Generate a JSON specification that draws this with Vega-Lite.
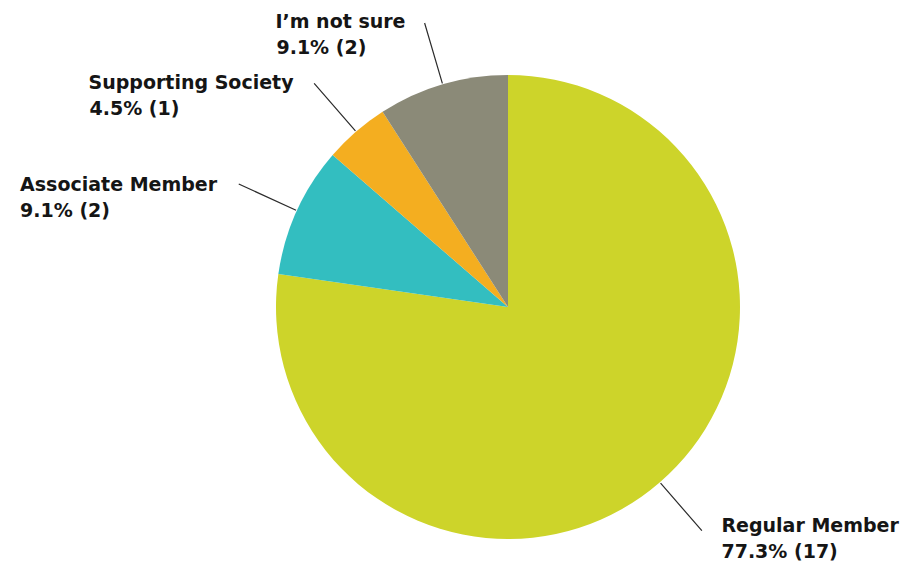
{
  "$schema": "https://vega.github.io/schema/vega-lite/v6.json",
  "width": 464,
  "height": 464,
  "autosize": {"type": "none"},
  "padding": {"left": 276, "top": 75, "right": 163, "bottom": 29},
  "background": "white",
  "config": {"view": {"stroke": null}},
  "data": {
    "values": [
      {"name": "Regular Member", "count": 17, "share": "77.3% (17)", "rank": 1},
      {"name": "Associate Member", "count": 2, "share": "9.1% (2)", "rank": 2},
      {"name": "Supporting Society", "count": 1, "share": "4.5% (1)", "rank": 3},
      {"name": "I’m not sure", "count": 2, "share": "9.1% (2)", "rank": 4}
    ]
  },
  "transform": [
    {"stack": "count", "groupby": [], "sort": [{"field": "rank"}], "as": ["c0", "c1"]},
    {"calculate": "(datum.c0 + datum.c1) / 2", "as": "mid"}
  ],
  "layer": [
    {
      "mark": {"type": "arc", "radius": 232},
      "encoding": {
        "theta": {"field": "c0", "type": "quantitative", "scale": {"domain": [0, 22]}},
        "theta2": {"field": "c1"},
        "color": {
          "field": "name",
          "type": "nominal",
          "scale": {
            "domain": ["Regular Member", "Associate Member", "Supporting Society", "I’m not sure"],
            "range": ["#CDD42A", "#33BEC0", "#F4AE20", "#8B8A78"]
          },
          "legend": null
        }
      }
    },
    {
      "mark": {"type": "arc", "radius": 296, "radius2": 233, "filled": false, "stroke": "#2b2b2b", "strokeWidth": 1.2},
      "encoding": {
        "theta": {"field": "mid", "type": "quantitative", "scale": {"domain": [0, 22]}},
        "theta2": {"field": "mid"}
      }
    },
    {
      "transform": [{"filter": "datum.mid < 11"}],
      "mark": {"type": "text", "radius": 300, "align": "left", "baseline": "middle", "dx": 17, "dy": -8, "font": "DejaVu Sans", "fontWeight": "bold", "fontSize": 19, "color": "#151515"},
      "encoding": {
        "theta": {"field": "mid", "type": "quantitative", "stack": null, "scale": {"domain": [0, 22]}},
        "text": {"field": "name"}
      }
    },
    {
      "transform": [{"filter": "datum.mid < 11"}],
      "mark": {"type": "text", "radius": 300, "align": "left", "baseline": "middle", "dx": 17, "dy": 18, "font": "DejaVu Sans", "fontWeight": "bold", "fontSize": 19, "color": "#151515"},
      "encoding": {
        "theta": {"field": "mid", "type": "quantitative", "stack": null, "scale": {"domain": [0, 22]}},
        "text": {"field": "share"}
      }
    },
    {
      "transform": [{"filter": "datum.mid >= 11"}],
      "mark": {"type": "text", "radius": 300, "align": "right", "baseline": "middle", "dx": -18, "dy": 3, "font": "DejaVu Sans", "fontWeight": "bold", "fontSize": 19, "color": "#151515"},
      "encoding": {
        "theta": {"field": "mid", "type": "quantitative", "stack": null, "scale": {"domain": [0, 22]}},
        "text": {"field": "name"}
      }
    },
    {
      "transform": [{"filter": "datum.mid >= 11"}],
      "mark": {"type": "text", "radius": 300, "align": "left", "baseline": "middle", "dx": {"expr": "-(length(datum.name) * 13.19 - 5.56 * length(replace(datum.name, regexp('[^iltI’ r]', 'g'), '')) + 4.12 * length(replace(datum.name, regexp('[^mM]', 'g'), '')) + 18)"}, "dy": 29, "font": "DejaVu Sans", "fontWeight": "bold", "fontSize": 19, "color": "#151515"},
      "encoding": {
        "theta": {"field": "mid", "type": "quantitative", "stack": null, "scale": {"domain": [0, 22]}},
        "text": {"field": "share"}
      }
    }
  ]
}
